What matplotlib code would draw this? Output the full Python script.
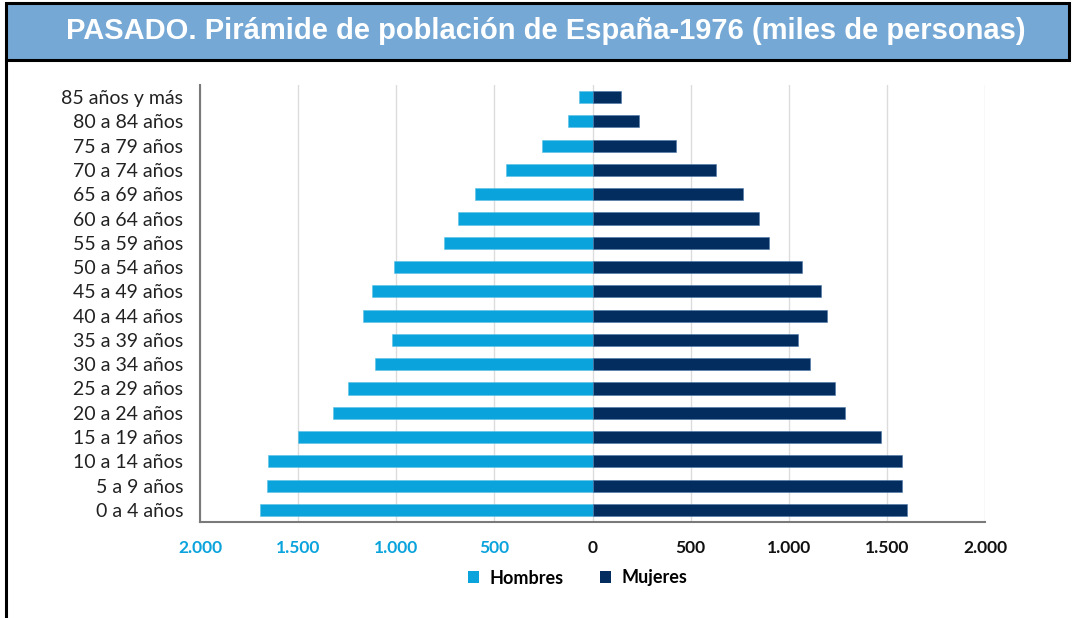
import matplotlib
matplotlib.use("Agg")
import matplotlib.pyplot as plt
from matplotlib.patches import Rectangle, Patch
from matplotlib.lines import Line2D

# ---- data ----
age_groups = ["0 a 4 años", "5 a 9 años", "10 a 14 años", "15 a 19 años", "20 a 24 años",
              "25 a 29 años", "30 a 34 años", "35 a 39 años", "40 a 44 años", "45 a 49 años",
              "50 a 54 años", "55 a 59 años", "60 a 64 años", "65 a 69 años", "70 a 74 años",
              "75 a 79 años", "80 a 84 años", "85 años y más"]
hombres = [1694, 1659, 1653, 1502, 1322, 1247, 1109, 1022, 1171, 1124,
           1010, 755, 687, 600, 441, 257, 125, 70]
mujeres = [1605, 1579, 1579, 1472, 1288, 1237, 1110, 1048, 1196, 1165,
           1068, 900, 850, 768, 630, 425, 237, 145]
x_ticks = [-2000, -1500, -1000, -500, 0, 500, 1000, 1500, 2000]
x_tick_labels = ["2.000", "1.500", "1.000", "500", "0", "500", "1.000", "1.500", "2.000"]
title = "PASADO. Pirámide de población de España-1976 (miles de personas)"
series_names = ["Hombres", "Mujeres"]

# ---- style ----
W, H = 1073, 618
c_men = "#0aa3dc"
c_women = "#022d5e"
label_font = ["Lato", "DejaVu Sans"]

fig = plt.figure(figsize=(W / 100, H / 100), dpi=100)
fig.patch.set_facecolor("white")

def fx(px):
    return px / W

def fy(py):
    return 1 - py / H

# title bar
fig.add_artist(Rectangle((fx(6), fy(60)), fx(1069) - fx(6), fy(3) - fy(60),
                         transform=fig.transFigure, facecolor="#75a8d5",
                         edgecolor="black", linewidth=2.2, zorder=5))
fig.add_artist(Line2D([fx(6), fx(6)], [fy(60), 0], transform=fig.transFigure,
                      color="black", linewidth=2.2, zorder=5))
fig.text(fx(546), fy(31), title, ha="center", va="center", color="white",
         fontsize=21, fontweight="bold", family=["Liberation Sans", "DejaVu Sans"], zorder=6)

ax = fig.add_axes([fx(200), fy(522), fx(985) - fx(200), fy(85) - fy(522)])
y = list(range(len(age_groups)))
ax.barh(y, [-v for v in hombres], height=0.5, color=c_men, edgecolor="#5cc0e6",
        linewidth=0.4, zorder=3, label=series_names[0])
ax.barh(y, mujeres, height=0.5, color=c_women, edgecolor="#4d77a8",
        linewidth=0.4, zorder=3, label=series_names[1])

ax.set_xlim(-2000, 2000)
ax.set_ylim(-0.5, len(age_groups) - 0.5)
ax.set_yticks(y)
ax.set_yticklabels(age_groups, fontsize=14, color="#222222", family=label_font)
ax.set_xticks(x_ticks)
ax.set_xticklabels(x_tick_labels, fontsize=12.5, fontweight="bold", family=label_font)
for lbl, v in zip(ax.get_xticklabels(), x_ticks):
    lbl.set_color(c_men if v < 0 else "#111111")
ax.tick_params(axis="both", length=0)
ax.tick_params(axis="x", pad=13)
ax.tick_params(axis="y", pad=12)
ax.grid(axis="x", color="#dcdcdc", linewidth=1.0, zorder=0)
ax.set_axisbelow(True)
for s in ["top", "right"]:
    ax.spines[s].set_visible(False)
ax.spines["left"].set_color("#7a7a7a")
ax.spines["left"].set_linewidth(1.5)
ax.spines["bottom"].set_color("#7a7a7a")
ax.spines["bottom"].set_linewidth(1.5)

handles = [Patch(facecolor=c_men, edgecolor="none"), Patch(facecolor=c_women, edgecolor="none")]
fig.legend(handles, series_names, loc="center", bbox_to_anchor=(fx(578), fy(578)),
           ncol=2, frameon=False, handlelength=0.6, handleheight=0.6, columnspacing=2.0,
           handletextpad=0.6, prop={"family": label_font, "weight": "bold", "size": 13})

fig.savefig("out.png", dpi=100)
